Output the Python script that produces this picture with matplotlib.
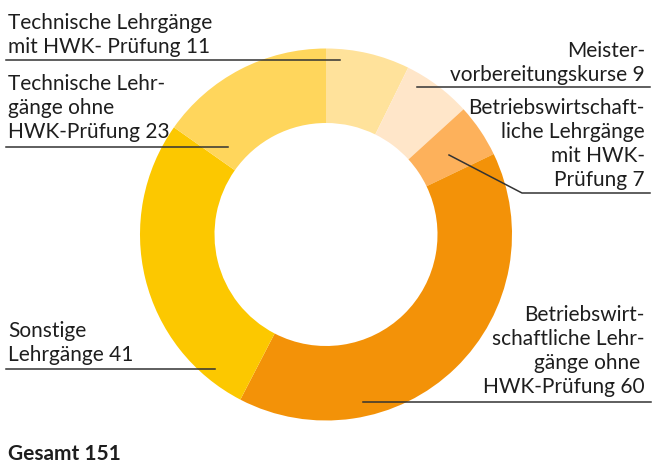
import matplotlib
matplotlib.use("Agg")
import matplotlib.pyplot as plt

# data, clockwise from 12 o'clock
labels = [
    "Technische Lehrgänge\nmit HWK- Prüfung 11",
    "Meister-\nvorbereitungskurse 9",
    "Betriebswirtschaft-\nliche Lehrgänge\nmit HWK-\nPrüfung 7",
    "Betriebswirt-\nschaftliche Lehr-\ngänge ohne \nHWK-Prüfung 60",
    "Sonstige\nLehrgänge 41",
    "Technische Lehr-\ngänge ohne\nHWK-Prüfung 23",
]
values = [11, 9, 7, 60, 41, 23]
colors = ["#FFE29B", "#FFE6C9", "#FDB15B", "#F39208", "#FCC800", "#FFD65C"]
total_label = "Gesamt 151"

W, H = 653, 466
plt.rcParams['font.family'] = ['Lato', 'DejaVu Sans']

fig = plt.figure(figsize=(W / 100, H / 100), dpi=100)
ax = fig.add_axes([0, 0, 1, 1])

def Y(y):
    # picture pixel row -> data y
    return H - y

cx, cy, r_out, r_in = 326, 234.5, 186, 111.5
ax.pie(values, colors=colors, startangle=90, counterclock=False,
       center=(cx, Y(cy)), radius=r_out,
       wedgeprops=dict(width=r_out - r_in, linewidth=0))

ax.set_xlim(0, W)
ax.set_ylim(0, H)
ax.set_aspect('auto')
ax.axis('off')

fs = 15
tc = "#1e1e1e"
lc = "#333333"
lw = 1.1
ls = 1.25

# left labels
ax.text(8, Y(53), labels[0], ha='left', va='baseline', fontsize=fs, color=tc, linespacing=ls)
ax.plot([6, 340], [Y(60), Y(60)], color=lc, lw=lw)

ax.text(8, Y(138), labels[5], ha='left', va='baseline', fontsize=fs, color=tc, linespacing=ls)
ax.plot([6, 228], [Y(147), Y(147)], color=lc, lw=lw)

ax.text(8, Y(361), labels[4], ha='left', va='baseline', fontsize=fs, color=tc, linespacing=ls)
ax.plot([6, 215], [Y(369), Y(369)], color=lc, lw=lw)

# right labels
ax.text(645, Y(81), labels[1], ha='right', va='baseline', fontsize=fs, color=tc, linespacing=ls)
ax.plot([417, 650], [Y(87), Y(87)], color=lc, lw=lw)

ax.text(645, Y(186), labels[2], ha='right', va='baseline', fontsize=fs, color=tc, linespacing=ls)
ax.plot([449, 522, 650], [Y(155), Y(193), Y(193)], color=lc, lw=lw)

ax.text(645, Y(393), labels[3], ha='right', va='baseline', fontsize=fs, color=tc, linespacing=ls)
ax.plot([363, 651], [Y(402), Y(402)], color=lc, lw=lw)

ax.text(8, Y(460), total_label, ha='left', va='baseline', fontsize=fs, fontweight='bold', color=tc)

fig.savefig("out.png", dpi=100)
